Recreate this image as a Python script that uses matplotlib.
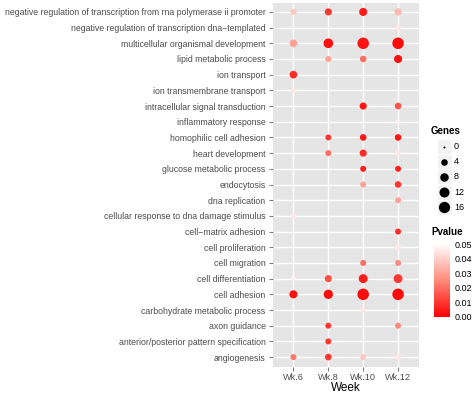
import numpy as np
import matplotlib
matplotlib.use("Agg")
import matplotlib.pyplot as plt
from matplotlib.colors import LinearSegmentedColormap
from matplotlib.patches import Rectangle

plt.rcParams['font.family'] = ['Liberation Sans', 'DejaVu Sans']

categories = [
    "negative regulation of transcription from rna polymerase ii promoter",
    "negative regulation of transcription dna\u2212templated",
    "multicellular organismal development",
    "lipid metabolic process",
    "ion transport",
    "ion transmembrane transport",
    "intracellular signal transduction",
    "inflammatory response",
    "homophilic cell adhesion",
    "heart development",
    "glucose metabolic process",
    "endocytosis",
    "dna replication",
    "cellular response to dna damage stimulus",
    "cell\u2212matrix adhesion",
    "cell proliferation",
    "cell migration",
    "cell differentiation",
    "cell adhesion",
    "carbohydrate metabolic process",
    "axon guidance",
    "anterior/posterior pattern specification",
    "angiogenesis",
]
weeks = ["Wk.6", "Wk.8", "Wk.10", "Wk.12"]
nan = np.nan
# Genes per category (rows) for each week (columns)
genes_wk6 = [3, nan, 6, nan, 6, 2, nan, nan, nan, nan, nan, nan, nan, 2, nan, nan, nan, 2, 7, nan, nan, nan, 3]
genes_wk8 = [5, nan, 11, 3, nan, nan, nan, nan, 3, 3, nan, nan, nan, nan, nan, nan, nan, 5, 10, nan, 3, 3, 4]
genes_wk10 = [7, nan, 17, 4, nan, nan, 5, nan, 4, 5, 3, 3, nan, nan, nan, nan, 3, 9, 17, 2, nan, nan, 3]
genes_wk12 = [5, 3, 17, 7, nan, nan, 4, 2, 4, 3, 3, 4, 3, nan, 3, 3, 3, 9, 17, nan, 3, nan, 3]
pval_wk6 = [0.038, nan, 0.03, nan, 0.008, 0.045, nan, nan, nan, nan, nan, nan, nan, 0.045, nan, nan, nan, 0.047, 0.003, nan, nan, nan, 0.022]
pval_wk8 = [0.01, nan, 0.003, 0.03, nan, nan, nan, nan, 0.01, 0.02, nan, nan, nan, nan, nan, nan, nan, 0.015, 0.002, nan, 0.01, 0.01, 0.01]
pval_wk10 = [0.005, nan, 0.004, 0.02, nan, nan, 0.004, nan, 0.004, 0.008, 0.005, 0.03, nan, nan, nan, nan, 0.02, 0.005, 0.002, 0.045, nan, nan, 0.038]
pval_wk12 = [0.035, 0.045, 0.002, 0.003, nan, nan, 0.015, 0.047, 0.004, 0.045, 0.006, 0.01, 0.03, nan, 0.008, 0.045, 0.025, 0.01, 0.002, nan, 0.025, nan, 0.045]

genes = [genes_wk6, genes_wk8, genes_wk10, genes_wk12]
pvals = [pval_wk6, pval_wk8, pval_wk10, pval_wk12]
size_breaks = [0, 4, 8, 12, 16]
p_breaks = [0.00, 0.01, 0.02, 0.03, 0.04, 0.05]

W, H, DPI = 472, 393, 100
fig = plt.figure(figsize=(W / DPI, H / DPI), dpi=DPI)
fig.patch.set_facecolor('white')

cmap = LinearSegmentedColormap.from_list('pv', ['#FF0000', '#FF8A7A', '#FFFFFF'])
gmin, gmax = 0, 17.0

def diam_px(g):
    r = np.clip((np.asarray(g, float) - gmin) / (gmax - gmin), 0, 1)
    return 2.0 + 9.5 * np.sqrt(r)

def s_of(g):
    return (diam_px(g) * 72.0 / DPI) ** 2

def fx(px):
    return px / W

def fy(py):
    return 1 - py / H

left, right, top, bottom = 272.5, 419, 2.5, 366.5
ax = fig.add_axes([fx(left), fy(bottom), fx(right - left), (bottom - top) / H])
ax.set_facecolor('#E5E5E5')
n = len(categories)
ypos = np.arange(n)[::-1]
ax.set_xlim(-0.6, len(weeks) - 1 + 0.6)
ax.set_ylim(-0.6, n - 1 + 0.6)
for i in range(len(weeks)):
    ax.axvline(i, color='white', lw=1.0, zorder=1)
for y in ypos:
    ax.axhline(y, color='white', lw=1.0, zorder=1)
for i in range(len(weeks)):
    g = np.array(genes[i], float)
    p = np.array(pvals[i], float)
    m = ~np.isnan(g)
    ax.scatter(np.full(m.sum(), i), ypos[m], s=s_of(g[m]), c=p[m], cmap=cmap,
               vmin=0, vmax=0.05, linewidths=0, zorder=3)
ax.set_xticks(range(len(weeks)))
ax.set_xticklabels(weeks)
ax.set_yticks(ypos)
ax.set_yticklabels(categories)
for s in ax.spines.values():
    s.set_visible(False)
ax.tick_params(axis='both', colors='#7F7F7F', labelcolor='#4D4D4D', labelsize=6.35,
               length=3, width=0.8, pad=2)
ax.tick_params(axis='x', pad=1.5, labelsize=6.6)
ax.set_xlabel('Week', fontsize=8.5, color='black', labelpad=0)

# Legend overlay axes in pixel coordinates
lax = fig.add_axes([0, 0, 1, 1], facecolor='none')
lax.set_xlim(0, W)
lax.set_ylim(H, 0)
lax.axis('off')
lax.text(431, 131, 'Genes', fontsize=7, fontweight='bold', va='center', ha='left')
key_y0, key_dy = 146.5, 15.2
for k, b in enumerate(size_breaks):
    yk = key_y0 + k * key_dy
    lax.add_patch(Rectangle((436.5, yk - 7.5), 15, 15, facecolor='#F2F2F2', edgecolor='white', lw=0.8))
    lax.scatter([444], [yk], s=s_of(b), color='black', linewidths=0)
    lax.text(454, yk, str(b), fontsize=6.5, va='center', ha='left', color='black')
lax.text(431, 232, 'Pvalue', fontsize=7, fontweight='bold', va='center', ha='left')

cb_top, cb_bot = 244, 317
cax = fig.add_axes([fx(434), fy(cb_bot), fx(450 - 434), (cb_bot - cb_top) / H])
grad = np.linspace(0, 0.05, 256).reshape(-1, 1)
cax.imshow(grad, aspect='auto', cmap=cmap, vmin=0, vmax=0.05, origin='lower',
           extent=[0, 1, 0, 0.05])
cax.set_xticks([])
cax.yaxis.tick_right()
cax.set_yticks(p_breaks)
cax.set_yticklabels(['%.2f' % v for v in p_breaks])
cax.tick_params(axis='y', length=0, labelsize=6.5, pad=3, labelcolor='black')
for s in cax.spines.values():
    s.set_visible(False)

fig.savefig('out.png', dpi=DPI)
